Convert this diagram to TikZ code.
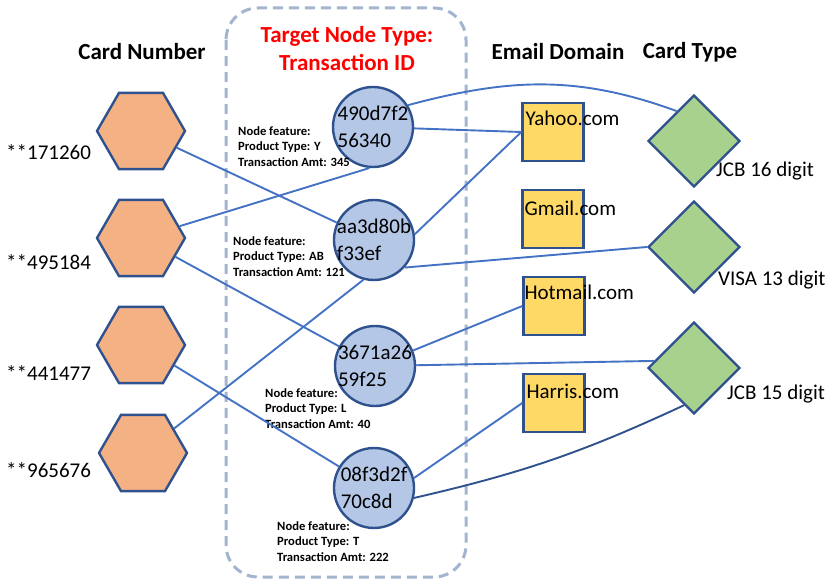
\documentclass[tikz,border=0pt]{standalone}
\usepackage{fontspec}
\setmainfont{Carlito}
\usetikzlibrary{shapes.geometric,positioning}
\definecolor{edgeblue}{HTML}{4472C4}
\definecolor{darkline}{HTML}{2F528F}
\definecolor{hexfill}{HTML}{F4B183}
\definecolor{txfill}{HTML}{B4C7E7}
\definecolor{mailfill}{HTML}{FFD966}
\definecolor{cardfill}{HTML}{A9D18E}
\definecolor{boxdash}{HTML}{A3B4D0}

\begin{document}
\begin{tikzpicture}[x=1pt, y=-1pt,
  hexn/.style={regular polygon, regular polygon sides=6, minimum size=88pt, inner sep=0pt,
               draw=darkline, line width=2.4pt, fill=hexfill},
  txn/.style={circle, minimum size=80pt, inner sep=0pt, draw=darkline, line width=2.4pt, fill=txfill},
  mailn/.style={rectangle, minimum width=61pt, minimum height=58pt, inner sep=0pt,
                draw=darkline, line width=2.4pt, fill=mailfill},
  cardn/.style={diamond, minimum width=92pt, minimum height=92pt, inner sep=0pt,
                draw=darkline, line width=2.4pt, fill=cardfill},
  hdr/.style={font=\fontsize{23}{28}\selectfont\bfseries, align=center, inner sep=0pt},
  lbl/.style={font=\fontsize{21}{27}\selectfont, align=left, inner sep=0pt},
  feat/.style={font=\fontsize{12.6}{15.5}\selectfont\bfseries, align=left, inner sep=0pt, anchor=north west},
  ln/.style={draw=edgeblue, line width=1.9pt},
]
\useasboundingbox (0,0) rectangle (828,585);

% Target node frame
\draw[boxdash, line width=3pt, dash pattern=on 10pt off 6pt, rounded corners=32pt]
  (226,8) rectangle (466,577);

% Column headers
\node[hdr] (hcard) at (142,52) {Card Number};
\node[hdr, text=red] (htx) at (347,49) {Target Node Type:\\Transaction ID};
\node[hdr] (hmail) at (558,52) {Email Domain};
\node[hdr] (hctype) at (690,52) {Card Type};

% Card numbers
\node[hexn] (k1) at (141,131) {};
\node[hexn] (k2) at (141,238) {};
\node[hexn] (k3) at (141,345) {};
\node[hexn] (k4) at (143,453) {};
\node[lbl, anchor=west] (k1l) at (6,152) {**171260};
\node[lbl, anchor=west] (k2l) at (6,262) {**495184};
\node[lbl, anchor=west] (k3l) at (6,373) {**441477};
\node[lbl, anchor=west] (k4l) at (6,470) {**965676};

% Transactions
\node[txn] (t1) at (373,127) {};
\node[lbl] (t1x) at (t1.center) {490d7f2\\56340};
\node[txn] (t2) at (374,240) {};
\node[lbl] (t2x) at (t2.center) {aa3d80b\\f33ef};
\node[txn] (t3) at (375,366) {};
\node[lbl] (t3x) at (t3.center) {3671a26\\59f25};
\node[txn] (t4) at (374,488) {};
\node[lbl] (t4x) at (t4.center) {08f3d2f\\70c8d};
\node[feat] (t1f) at (238,126) {Node feature:\\Product Type: Y\\Transaction Amt: 345};
\node[feat] (t2f) at (233,236) {Node feature:\\Product Type: AB\\Transaction Amt: 121};
\node[feat] (t3f) at (265,388) {Node feature:\\Product Type: L\\Transaction Amt: 40};
\node[feat] (t4f) at (277,521) {Node feature:\\Product Type: T\\Transaction Amt: 222};

% Email domains
\node[mailn] (m1) at (553,132) {};
\node[mailn] (m2) at (553,219) {};
\node[mailn] (m3) at (554,306) {};
\node[mailn] (m4) at (554,403) {};
\node[lbl, anchor=west] (m1x) at ([xshift=4pt,yshift=-16pt]m1.north west) {Yahoo.com};
\node[lbl, anchor=west] (m2x) at ([xshift=3pt,yshift=-19pt]m2.north west) {Gmail.com};
\node[lbl, anchor=west] (m3x) at ([xshift=2pt,yshift=-16pt]m3.north west) {Hotmail.com};
\node[lbl, anchor=west] (m4x) at ([xshift=4pt,yshift=-19pt]m4.north west) {Harris.com};

% Card types
\node[cardn] (d1) at (694,141) {};
\node[cardn] (d2) at (694,247) {};
\node[cardn] (d3) at (694,368) {};
\node[lbl, anchor=west] (d1x) at (716,171) {JCB 16 digit};
\node[lbl, anchor=west] (d2x) at (718,280) {VISA 13 digit};
\node[lbl, anchor=west] (d3x) at (727,394) {JCB 15 digit};

% Links
\draw[ln] (k1) -- (t2);
\draw[ln] (k2) -- (t1.265);
\draw[ln] (k2) -- (t3);
\draw[ln] (k3) -- (t4);
\draw[ln] (k4) -- (t2.255);
\draw[ln] (t1) -- (m1.west);
\draw[ln] (t1.32) to[out=15, in=160] (d1.120);
\draw[ln] (t2.8) -- (m1.west);
\draw[ln] (t2.318) -- (d2.west);
\draw[ln] (t3) -- (m3.west);
\draw[ln] (t3) -- (d3.170);
\draw[ln] (t4.14) -- (m4.west);
\draw[ln, draw=darkline] (t4.346) to[bend right=6] (d3.255);
\end{tikzpicture}
\end{document}
